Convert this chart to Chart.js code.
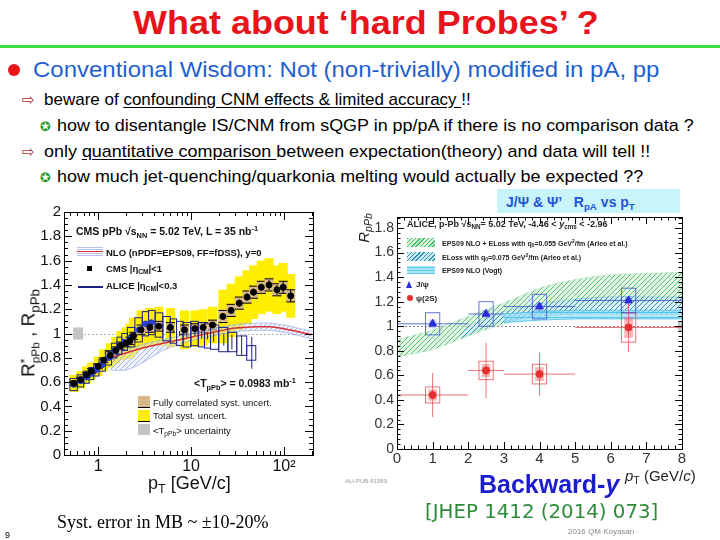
<!DOCTYPE html>
<html>
<head>
<meta charset="utf-8">
<script src="https://cdn.jsdelivr.net/npm/chart.js@4.4.0/dist/chart.umd.min.js"></script>
<style>
body { margin: 0; width: 720px; height: 540px; position: relative; overflow: hidden; background: #fff; font-family: "Liberation Sans", Arial, sans-serif; }
.a { position: absolute; white-space: nowrap; }
.c { transform: translateY(-50%); }
.s { transform: translateY(-50%) scaleX(1.055); transform-origin: 0 50%; }
sub { font-size: 0.7em; vertical-align: -0.35em; line-height: 0; }
sup { font-size: 0.7em; vertical-align: 0.5em; line-height: 0; }
.line { font-size: 17px; color: #000; }
.u { text-decoration: underline; text-underline-offset: 2px; }
.arrow { font-family: "DejaVu Sans"; color: #b03030; font-size: 15px; }
.star { font-family: "DejaVu Sans"; color: #2a9a2a; font-size: 13px; }
.lg { font-size: 9.5px; font-weight: bold; color: #111; }
.rg { font-size: 7px; font-weight: bold; color: #222; }
canvas { position: absolute; }
</style>
</head>
<body>
<div class="a" style="left:133px;top:4px;font-size:33px;font-weight:bold;color:#e8141c;transform:scaleX(1.09);transform-origin:0 0;">What about ‘hard Probes’ ?</div>
<div class="a" style="left:0;top:45px;width:720px;height:3px;background:#3fdc3f;"></div>
<div class="a" style="left:8px;top:64px;width:12px;height:12px;border-radius:50%;background:#e8141c;"></div>
<div class="a" style="left:33px;top:70px;font-size:22px;color:#1f5fd0;transform:translateY(-50%) scaleX(1.09);transform-origin:0 50%;">Conventional Wisdom: Not (non-trivially) modified in pA, pp</div>
<div class="a c arrow" style="left:22px;top:100px;">⇨</div>
<div class="a c line" style="left:44px;top:100px;">beware of <span class="u">confounding CNM effects &amp; limited accuracy </span>!!</div>
<div class="a c star" style="left:40px;top:126px;">✪</div>
<div class="a s line" style="left:57px;top:126px;">how to disentangle IS/CNM from sQGP in pp/pA if there is no comparison data ?</div>
<div class="a c arrow" style="left:22px;top:152px;">⇨</div>
<div class="a s line" style="left:44px;top:152px;">only <span class="u">quantitative comparison </span>between expectation(theory) and data will tell !!</div>
<div class="a c star" style="left:40px;top:177px;">✪</div>
<div class="a s line" style="left:57px;top:177px;">how much jet-quenching/quarkonia melting would actually be expected ??</div>

<div class="a" style="left:497px;top:189px;width:183px;height:24px;background:#c8f4fa;"></div>
<div class="a c" style="left:506px;top:202px;font-size:14px;font-weight:bold;color:#2454d6;">J/Ψ &amp; Ψ’&nbsp;&nbsp; R<sub>pA</sub> vs p<sub>T</sub></div>

<canvas id="left" width="330" height="300" style="left:0;top:200px;"></canvas>
<canvas id="right" width="375" height="270" style="left:345px;top:205px;"></canvas>

<!-- left chart texts -->
<div class="a" style="left:29px;top:333px;transform:translate(-50%,-50%) rotate(-90deg);font-size:19px;color:#111;">R<span style="display:inline-block;vertical-align:middle;font-size:0.62em;line-height:0.95;"><span style="display:block">*</span><span style="display:block">pPb</span></span> , R<sub>pPb</sub></div>
<div class="a c" style="left:148px;top:483px;font-size:18px;color:#111;">p<sub>T</sub> [GeV/c]</div>
<div class="a c lg" style="left:76px;top:231px;font-size:10.5px;">CMS pPb √s<sub>NN</sub> = 5.02 TeV, L = 35 nb<sup>-1</sup></div>
<div class="a" style="left:77px;top:247px;width:26px;height:9px;background:repeating-linear-gradient(0deg,#b8c4ee 0 1px,#fff 1px 2px);"></div>
<div class="a" style="left:77px;top:251px;width:26px;height:1px;background:#d03040;"></div>
<div class="a c lg" style="left:106px;top:252px;">NLO (nPDF=EPS09, FF=fDSS), y=0</div>
<div class="a" style="left:87px;top:266px;width:5px;height:5px;background:#000;"></div>
<div class="a c lg" style="left:106px;top:268px;">CMS |η<sub>CM</sub>|&lt;1</div>
<div class="a" style="left:78px;top:286px;width:25px;height:1.5px;background:#1a237e;"></div>
<div class="a c lg" style="left:106px;top:285px;">ALICE |η<sub>CM</sub>|&lt;0.3</div>
<div class="a c lg" style="left:194px;top:383px;font-size:10.5px;">&lt;T<sub>pPb</sub>&gt; = 0.0983 mb<sup>-1</sup></div>
<div class="a" style="left:138px;top:396px;width:12px;height:11px;background:#d8b888;border-bottom:1px solid #000;"></div>
<div class="a c lg" style="left:153px;top:402px;font-weight:normal;">Fully correlated syst. uncert.</div>
<div class="a" style="left:138px;top:410px;width:12px;height:11px;background:#ffee00;border-bottom:1px solid #000;"></div>
<div class="a c lg" style="left:153px;top:415px;font-weight:normal;">Total syst. uncert.</div>
<div class="a" style="left:138px;top:424px;width:12px;height:11px;background:#c4c4c4;"></div>
<div class="a c lg" style="left:153px;top:430px;font-weight:normal;">&lt;T<sub>pPb</sub>&gt; uncertainty</div>

<!-- right chart texts -->
<div class="a" style="left:363px;top:228px;transform:translate(-50%,-50%) rotate(-90deg);font-size:15px;font-style:italic;color:#222;">R<sub>pPb</sub></div>
<div class="a c" style="left:625px;top:475px;font-size:15px;color:#222;"><i>p</i><sub>T</sub> (GeV/<i>c</i>)</div>
<div class="a c rg" style="left:407px;top:224px;font-size:9px;">ALICE, p-Pb √s<sub>NN</sub>= 5.02 TeV, -4.46 &lt; <i>y</i><sub>cms</sub> &lt; -2.96</div>
<div class="a" style="left:407px;top:238px;width:28px;height:9px;background:repeating-linear-gradient(135deg,#3fbf6a 0 1px,#d8f2d8 1px 3px);"></div>
<div class="a c rg" style="left:442px;top:243px;">EPS09 NLO + ELoss with q<sub>0</sub>=0.055 GeV<sup>2</sup>/fm (Arleo et al.)</div>
<div class="a" style="left:407px;top:252px;width:28px;height:9px;background:repeating-linear-gradient(135deg,#2a8fb0 0 1px,#d0eef8 1px 3px);"></div>
<div class="a c rg" style="left:442px;top:257px;">ELoss with q<sub>0</sub>=0.075 GeV<sup>2</sup>/fm (Arleo et al.)</div>
<div class="a" style="left:407px;top:266px;width:28px;height:8px;background:repeating-linear-gradient(0deg,#5cc8ec 0 1px,#a8e4f6 1px 3px);"></div>
<div class="a c rg" style="left:442px;top:270px;">EPS09 NLO (Vogt)</div>
<div class="a" style="left:406px;top:281px;width:0;height:0;border-left:3.5px solid transparent;border-right:3.5px solid transparent;border-bottom:7px solid #2b2bd9;"></div>
<div class="a c rg" style="left:416px;top:284px;font-size:8px;">J/ψ</div>
<div class="a" style="left:407px;top:295px;width:6px;height:6px;border-radius:50%;background:#e62e2e;"></div>
<div class="a c rg" style="left:416px;top:298px;font-size:8px;">ψ(2S)</div>
<div class="a c" style="left:345px;top:481px;font-size:6px;color:#999;">ALI-PUB-81989</div>
<div class="a c" style="left:479px;top:484px;font-size:25px;font-weight:bold;color:#1c1ccf;">Backward-<i>y</i></div>
<div class="a c" style="left:425px;top:511px;font-family:'DejaVu Sans';font-size:19.8px;color:#2e8b3a;">[JHEP 1412 (2014) 073]</div>
<div class="a c" style="left:568px;top:531px;font-size:8px;color:#888;">2016 QM Koyasan</div>
<div class="a c" style="left:57px;top:522px;font-family:'Liberation Serif',serif;font-size:18px;color:#000;">Syst. error in MB ~ ±10-20%</div>
<div class="a c" style="left:5px;top:535px;font-size:9px;color:#000;">9</div>

<script>
// ---- left panel: R_pPb of charged particles ----
const cmsPt   = [0.55, 0.65, 0.75, 0.85, 1.0, 1.15, 1.35, 1.55, 1.75, 2.0, 2.2, 2.4, 2.9, 3.6, 4.5, 6.0, 8.5, 11, 13.5, 17, 22, 27, 33, 40, 47, 57, 69, 84, 98, 118];
const cmsR    = [0.59, 0.62, 0.66, 0.69, 0.73, 0.78, 0.82, 0.86, 0.90, 0.92, 0.94, 0.98, 1.03, 1.05, 1.06, 1.05, 1.03, 1.04, 1.05, 1.07, 1.14, 1.19, 1.25, 1.30, 1.34, 1.38, 1.40, 1.36, 1.38, 1.31];
const cmsSys  = [0.07, 0.07, 0.07, 0.07, 0.08, 0.09, 0.10, 0.11, 0.12, 0.13, 0.14, 0.15, 0.16, 0.16, 0.16, 0.16, 0.16, 0.15, 0.15, 0.15, 0.22, 0.22, 0.22, 0.22, 0.22, 0.22, 0.22, 0.20, 0.20, 0.18];
const cmsCor  = [0.02, 0.02, 0.02, 0.02, 0.02, 0.02, 0.03, 0.03, 0.03, 0.03, 0.03, 0.03, 0.04, 0.04, 0.04, 0.04, 0.04, 0.04, 0.04, 0.04, 0.05, 0.05, 0.05, 0.05, 0.05, 0.05, 0.05, 0.05, 0.05, 0.05];
const cmsStat = [0.01, 0.01, 0.01, 0.01, 0.01, 0.01, 0.01, 0.01, 0.01, 0.01, 0.01, 0.01, 0.01, 0.01, 0.01, 0.01, 0.01, 0.01, 0.01, 0.02, 0.02, 0.02, 0.03, 0.03, 0.03, 0.03, 0.04, 0.04, 0.05, 0.05];

const alicePt   = [0.55, 0.65, 0.75, 0.85, 0.95, 1.1, 1.3, 1.5, 1.7, 1.9, 2.25, 2.75, 3.25, 3.75, 4.5, 5.5, 6.5, 7.5, 9, 11, 13, 15, 17.5, 22.5, 27.5, 35, 45];
const aliceR    = [0.58, 0.61, 0.64, 0.67, 0.70, 0.74, 0.80, 0.86, 0.90, 0.93, 0.97, 1.03, 1.08, 1.09, 1.07, 1.04, 1.02, 1.00, 0.99, 1.00, 0.99, 0.98, 0.97, 0.95, 0.93, 0.90, 0.84];
const aliceSys  = [0.05, 0.05, 0.05, 0.05, 0.05, 0.05, 0.06, 0.06, 0.07, 0.07, 0.08, 0.10, 0.10, 0.10, 0.10, 0.10, 0.10, 0.10, 0.10, 0.10, 0.10, 0.10, 0.10, 0.10, 0.08, 0.08, 0.06];
const aliceStat = [0.01, 0.01, 0.01, 0.01, 0.01, 0.01, 0.01, 0.01, 0.01, 0.01, 0.01, 0.01, 0.01, 0.01, 0.01, 0.01, 0.01, 0.02, 0.02, 0.02, 0.03, 0.03, 0.04, 0.05, 0.06, 0.08, 0.13];

const nloPt = [1.35, 2, 3, 5, 10, 20, 30, 50, 70, 100, 150, 200];
const nloR  = [0.80, 0.84, 0.88, 0.92, 0.97, 1.02, 1.045, 1.055, 1.055, 1.04, 1.01, 0.99];
const nloLo = [0.70, 0.70, 0.76, 0.86, 0.94, 0.99, 1.015, 1.025, 1.025, 1.01, 0.98, 0.955];
const nloHi = [0.83, 0.87, 0.91, 0.95, 1.00, 1.05, 1.075, 1.085, 1.085, 1.07, 1.04, 1.02];

const tpbBoxPt = [0.54, 0.69];
const tpbBoxR  = [0.95, 1.05];

const leftYTicks  = [0, 0.2, 0.4, 0.6, 0.8, 1, 1.2, 1.4, 1.6, 1.8, 2];
const leftXTicks  = [1, 10, 100];
const leftXLabels = ['1', '10', '10²'];

// ---- right panel: J/psi and psi(2S) R_pPb, backward rapidity ----
const binLo = [0, 2, 3, 5];
const binHi = [2, 3, 5, 8];
const binPt = [1, 2.5, 4, 6.5];
const jpsiR    = [1.02, 1.10, 1.16, 1.21];
const jpsiStat = [0.02, 0.02, 0.02, 0.02];
const jpsiSys  = [0.09, 0.10, 0.10, 0.10];
const psiR     = [0.44, 0.64, 0.61, 0.99];
const psiStat  = [0.18, 0.225, 0.175, 0.20];
const psiSys   = [0.065, 0.075, 0.08, 0.12];

const bandPt  = [0, 1, 2, 3, 4, 5, 6, 7, 8];
const eplLo   = [0.75, 0.81, 0.92, 1.02, 1.10, 1.15, 1.18, 1.20, 1.20];
const eplHi   = [0.89, 0.97, 1.08, 1.19, 1.31, 1.38, 1.42, 1.43, 1.44];
const elossPt = [1.8, 2, 2.5, 3, 4, 5, 6, 7, 8];
const elossLo = [0.90, 0.93, 1.00, 1.04, 1.08, 1.10, 1.10, 1.10, 1.10];
const elossHi = [0.93, 1.00, 1.06, 1.12, 1.18, 1.22, 1.24, 1.24, 1.24];
const vogtPt  = [3, 4, 5, 6, 7, 8];
const vogtLo  = [1.03, 1.05, 1.06, 1.06, 1.06, 1.06];
const vogtHi  = [1.10, 1.12, 1.13, 1.13, 1.13, 1.13];

const normBoxPt = [7.88, 8.0];
const normBoxR  = [0.96, 1.04];

const rightYTicks = [0, 0.2, 0.4, 0.6, 0.8, 1, 1.2, 1.4, 1.6, 1.8];
const rightXTicks = [0, 1, 2, 3, 4, 5, 6, 7, 8];

const pts = (xs, ys) => xs.map((x, i) => ({ x, y: ys[i] }));

function range(a, b, s) {
  const out = [];
  for (let v = a; v <= b + 1e-9; v += s) out.push(Math.round(v * 1000) / 1000);
  return out;
}

function hatch(ctx, line, bg, dir) {
  const c = document.createElement('canvas');
  c.width = 5; c.height = 5;
  const g = c.getContext('2d');
  g.fillStyle = bg; g.fillRect(0, 0, 5, 5);
  g.strokeStyle = line; g.lineWidth = 1;
  g.beginPath();
  if (dir === 'h') { g.moveTo(0, 2.5); g.lineTo(5, 2.5); }
  else { g.moveTo(0, 5); g.lineTo(5, 0); g.moveTo(-1, 1); g.lineTo(1, -1); g.moveTo(4, 6); g.lineTo(6, 4); }
  g.stroke();
  return ctx.createPattern(c, 'repeat');
}

// ROOT style frame with inward ticks
function frame(chart, xMaj, xMin, yMaj, yMin, lMaj, lMin) {
  const { ctx, chartArea: a, scales: { x, y } } = chart;
  ctx.save();
  ctx.strokeStyle = '#000';
  ctx.lineWidth = 1;
  ctx.strokeRect(a.left + 0.5, a.top + 0.5, a.right - a.left, a.bottom - a.top);
  ctx.beginPath();
  const tx = (arr, len) => arr.forEach(v => {
    const p = Math.round(x.getPixelForValue(v)) + 0.5;
    if (p < a.left || p > a.right) return;
    ctx.moveTo(p, a.bottom); ctx.lineTo(p, a.bottom - len);
    ctx.moveTo(p, a.top); ctx.lineTo(p, a.top + len);
  });
  const ty = (arr, len) => arr.forEach(v => {
    const p = Math.round(y.getPixelForValue(v)) + 0.5;
    if (p < a.top || p > a.bottom) return;
    ctx.moveTo(a.left, p); ctx.lineTo(a.left + len, p);
    ctx.moveTo(a.right, p); ctx.lineTo(a.right - len, p);
  });
  tx(xMaj, lMaj); tx(xMin, lMin); ty(yMaj, lMaj); ty(yMin, lMin);
  ctx.stroke();
  ctx.restore();
}

function clip(chart) {
  const { ctx, chartArea: a } = chart;
  ctx.beginPath();
  ctx.rect(a.left, a.top, a.right - a.left, a.bottom - a.top);
  ctx.clip();
}

function dotted(chart, v, color) {
  const { ctx, chartArea: a, scales: { y } } = chart;
  const p = Math.round(y.getPixelForValue(v)) + 0.5;
  ctx.save();
  ctx.strokeStyle = color;
  ctx.setLineDash([2, 2]);
  ctx.beginPath(); ctx.moveTo(a.left, p); ctx.lineTo(a.right, p); ctx.stroke();
  ctx.restore();
}

const leftMinorX = [0.5, 0.6, 0.7, 0.8, 0.9, 2, 3, 4, 5, 6, 7, 8, 9, 20, 30, 40, 50, 60, 70, 80, 90, 200];

const leftExtras = {
  id: 'leftExtras',
  beforeDatasetsDraw(chart) {
    const { ctx, scales: { x, y } } = chart;
    dotted(chart, 1, '#b0b0b0');
    ctx.save();
    clip(chart);
    // <T_pPb> uncertainty
    ctx.fillStyle = '#c4c4c4';
    const gx0 = x.getPixelForValue(tpbBoxPt[0]), gx1 = x.getPixelForValue(tpbBoxPt[1]);
    const gy0 = y.getPixelForValue(tpbBoxR[1]), gy1 = y.getPixelForValue(tpbBoxR[0]);
    ctx.fillRect(gx0, gy0, gx1 - gx0, gy1 - gy0);
    // total syst (yellow)
    ctx.fillStyle = '#ffee00';
    cmsPt.forEach((pt, i) => {
      const px = x.getPixelForValue(pt);
      const t = y.getPixelForValue(cmsR[i] + cmsSys[i]), b = y.getPixelForValue(cmsR[i] - cmsSys[i]);
      ctx.fillRect(px - 4.5, t, 9, b - t);
    });
    // fully correlated (tan)
    cmsPt.forEach((pt, i) => {
      const px = x.getPixelForValue(pt);
      const t = y.getPixelForValue(cmsR[i] + cmsCor[i]), b = y.getPixelForValue(cmsR[i] - cmsCor[i]);
      ctx.fillStyle = '#d8b888';
      ctx.fillRect(px - 4.5, t, 9, b - t);
      ctx.strokeStyle = '#000';
      ctx.lineWidth = 1;
      ctx.beginPath();
      ctx.moveTo(px - 4.5, t); ctx.lineTo(px + 4.5, t);
      ctx.moveTo(px - 4.5, b); ctx.lineTo(px + 4.5, b);
      ctx.stroke();
    });
    ctx.restore();
  },
  beforeDatasetDraw(chart, args) {
    if (args.index !== 1) return;
    const { ctx, scales: { x, y } } = chart;
    ctx.save();
    clip(chart);
    const px = alicePt.map(v => x.getPixelForValue(v));
    ctx.strokeStyle = '#1a237e';
    ctx.lineWidth = 1;
    px.forEach((p, i) => {
      const l = i > 0 ? (p + px[i - 1]) / 2 : p - 4;
      const r = i < px.length - 1 ? (p + px[i + 1]) / 2 : p + 4;
      const t = y.getPixelForValue(aliceR[i] + aliceSys[i]), b = y.getPixelForValue(aliceR[i] - aliceSys[i]);
      ctx.strokeRect(l, t, r - l, b - t);
      const st = y.getPixelForValue(aliceR[i] + aliceStat[i]), sb = y.getPixelForValue(aliceR[i] - aliceStat[i]);
      ctx.beginPath(); ctx.moveTo(p, st); ctx.lineTo(p, sb); ctx.stroke();
    });
    // CMS stat bars
    ctx.strokeStyle = '#000';
    cmsPt.forEach((pt, i) => {
      const p = x.getPixelForValue(pt);
      ctx.beginPath();
      ctx.moveTo(p, y.getPixelForValue(cmsR[i] + cmsStat[i]));
      ctx.lineTo(p, y.getPixelForValue(cmsR[i] - cmsStat[i]));
      ctx.stroke();
    });
    ctx.restore();
  },
  afterDraw(chart) {
    frame(chart, leftXTicks, leftMinorX, leftYTicks, range(0, 2, 0.05), 8, 4);
  }
};

const rightExtras = {
  id: 'rightExtras',
  beforeDatasetsDraw(chart) {
    dotted(chart, 1, '#888');
  },
  beforeDatasetDraw(chart, args) {
    if (args.index !== 1) return;
    const { ctx, scales: { x, y } } = chart;
    ctx.save();
    clip(chart);
    const X = v => x.getPixelForValue(v), Y = v => y.getPixelForValue(v);
    // normalisation uncertainty box
    ctx.fillStyle = '#c8c8c8';
    ctx.fillRect(X(normBoxPt[0]), Y(normBoxR[1]), X(normBoxPt[1]) - X(normBoxPt[0]), Y(normBoxR[0]) - Y(normBoxR[1]));
    binPt.forEach((pt, i) => {
      // psi(2S)
      ctx.fillStyle = 'rgba(240,90,90,0.45)';
      ctx.fillRect(X(pt - 0.12), Y(psiR[i] + psiSys[i] * 0.7), X(pt + 0.12) - X(pt - 0.12), Y(psiR[i] - psiSys[i] * 0.7) - Y(psiR[i] + psiSys[i] * 0.7));
      ctx.strokeStyle = 'rgba(230,70,70,0.75)';
      ctx.lineWidth = 1;
      ctx.strokeRect(X(pt - 0.2), Y(psiR[i] + psiSys[i]), X(pt + 0.2) - X(pt - 0.2), Y(psiR[i] - psiSys[i]) - Y(psiR[i] + psiSys[i]));
      ctx.beginPath();
      ctx.moveTo(X(binLo[i]), Y(psiR[i])); ctx.lineTo(X(binHi[i]), Y(psiR[i]));
      ctx.moveTo(X(pt), Y(psiR[i] + psiStat[i])); ctx.lineTo(X(pt), Y(psiR[i] - psiStat[i]));
      ctx.stroke();
      // J/psi
      ctx.fillStyle = 'rgba(90,110,230,0.35)';
      ctx.fillRect(X(pt - 0.1), Y(jpsiR[i] + 0.035), X(pt + 0.1) - X(pt - 0.1), Y(jpsiR[i] - 0.035) - Y(jpsiR[i] + 0.035));
      ctx.strokeStyle = 'rgba(60,80,210,0.8)';
      ctx.strokeRect(X(pt - 0.2), Y(jpsiR[i] + jpsiSys[i]), X(pt + 0.2) - X(pt - 0.2), Y(jpsiR[i] - jpsiSys[i]) - Y(jpsiR[i] + jpsiSys[i]));
      ctx.beginPath();
      ctx.moveTo(X(binLo[i]), Y(jpsiR[i])); ctx.lineTo(X(binHi[i]), Y(jpsiR[i]));
      ctx.moveTo(X(pt), Y(jpsiR[i] + jpsiStat[i])); ctx.lineTo(X(pt), Y(jpsiR[i] - jpsiStat[i]));
      ctx.stroke();
    });
    ctx.restore();
  },
  afterDraw(chart) {
    frame(chart, rightXTicks, range(0, 8, 0.2), rightYTicks, range(0, 1.88, 0.04), 7, 3.5);
  }
};

const sans = '"Liberation Sans", Arial';
const noGrid = { display: false, drawTicks: false };
const noBorder = { display: false };

const leftCtx = document.getElementById('left').getContext('2d');
new Chart(leftCtx, {
  type: 'line',
  data: {
    datasets: [
      { data: pts(cmsPt, cmsR), showLine: false, pointRadius: 3, pointBackgroundColor: '#000', pointBorderColor: '#000' },
      { data: pts(alicePt.slice(0, 14), aliceR.slice(0, 14)), showLine: false, pointRadius: 2.8, pointBackgroundColor: '#2a3fd0', pointBorderColor: '#2a3fd0' },
      { data: pts(nloPt, nloR), borderColor: '#d8303a', borderWidth: 1.5, pointRadius: 0, tension: 0.4, fill: false },
      { data: pts(nloPt, nloHi), borderColor: 'rgba(150,165,225,0.8)', borderWidth: 0.8, pointRadius: 0, tension: 0.4, fill: false },
      { data: pts(nloPt, nloLo), borderColor: 'rgba(150,165,225,0.8)', borderWidth: 0.8, pointRadius: 0, tension: 0.4,
        fill: '-1', backgroundColor: hatch(leftCtx, 'rgba(140,160,225,0.75)', 'rgba(225,230,250,0.45)') }
    ]
  },
  options: {
    responsive: false,
    animation: false,
    layout: { padding: { top: 12, right: 17, left: 0, bottom: 0 } },
    plugins: { legend: { display: false }, tooltip: { enabled: false } },
    scales: {
      x: {
        type: 'logarithmic', min: 0.43, max: 205,
        grid: noGrid, border: noBorder,
        afterBuildTicks: s => { s.ticks = leftXTicks.map(v => ({ value: v })); },
        afterFit: s => { s.height = 45; },
        ticks: { autoSkip: false, maxRotation: 0, padding: 2, color: '#111', font: { family: sans, size: 16 },
                 callback: (v, i) => leftXLabels[i] }
      },
      y: {
        min: 0, max: 2,
        grid: noGrid, border: noBorder,
        afterBuildTicks: s => { s.ticks = leftYTicks.map(v => ({ value: v })); },
        afterFit: s => { s.width = 64; },
        ticks: { padding: 3, color: '#111', font: { family: sans, size: 15 }, callback: v => String(v) }
      }
    }
  },
  plugins: [leftExtras]
});

const rightCtx = document.getElementById('right').getContext('2d');
new Chart(rightCtx, {
  type: 'line',
  data: {
    datasets: [
      { data: pts(binPt, jpsiR), showLine: false, pointStyle: 'triangle', pointRadius: 4.5, pointBackgroundColor: '#2b2bd9', pointBorderColor: '#2b2bd9' },
      { data: pts(binPt, psiR), showLine: false, pointRadius: 3.5, pointBackgroundColor: '#e62e2e', pointBorderColor: '#e62e2e' },
      { data: pts(vogtPt, vogtHi), borderColor: 'rgba(80,195,235,0.9)', borderWidth: 1, pointRadius: 0, fill: false },
      { data: pts(vogtPt, vogtLo), borderColor: 'rgba(80,195,235,0.9)', borderWidth: 1, pointRadius: 0,
        fill: '-1', backgroundColor: hatch(rightCtx, 'rgba(70,190,235,0.8)', 'rgba(150,220,245,0.7)', 'h') },
      { data: pts(elossPt, elossHi), borderColor: 'rgba(40,140,180,0.5)', borderWidth: 0.5, pointRadius: 0, tension: 0.3, fill: false },
      { data: pts(elossPt, elossLo), borderColor: 'rgba(40,140,180,0.5)', borderWidth: 0.5, pointRadius: 0, tension: 0.3,
        fill: '-1', backgroundColor: hatch(rightCtx, 'rgba(35,130,175,0.9)', 'rgba(200,235,245,0.6)') },
      { data: pts(bandPt, eplHi), borderColor: 'rgba(70,190,110,0.4)', borderWidth: 0.5, pointRadius: 0, tension: 0.3, fill: false },
      { data: pts(bandPt, eplLo), borderColor: 'rgba(70,190,110,0.4)', borderWidth: 0.5, pointRadius: 0, tension: 0.3,
        fill: '-1', backgroundColor: hatch(rightCtx, 'rgba(60,185,100,0.85)', 'rgba(215,242,215,0.7)') }
    ]
  },
  options: {
    responsive: false,
    animation: false,
    layout: { padding: { top: 12, right: 38, left: 0, bottom: 0 } },
    plugins: { legend: { display: false }, tooltip: { enabled: false } },
    scales: {
      x: {
        type: 'linear', min: 0, max: 8,
        grid: noGrid, border: noBorder,
        afterBuildTicks: s => { s.ticks = rightXTicks.map(v => ({ value: v })); },
        afterFit: s => { s.height = 26; },
        ticks: { autoSkip: false, maxRotation: 0, padding: 1, color: '#333', font: { family: sans, size: 15 }, callback: v => String(v) }
      },
      y: {
        min: 0, max: 1.89,
        grid: noGrid, border: noBorder,
        afterBuildTicks: s => { s.ticks = rightYTicks.map(v => ({ value: v })); },
        afterFit: s => { s.width = 52; },
        ticks: { padding: 3, color: '#333', font: { family: sans, size: 14 }, callback: v => String(v) }
      }
    }
  },
  plugins: [rightExtras]
});
</script>
</body>
</html>
